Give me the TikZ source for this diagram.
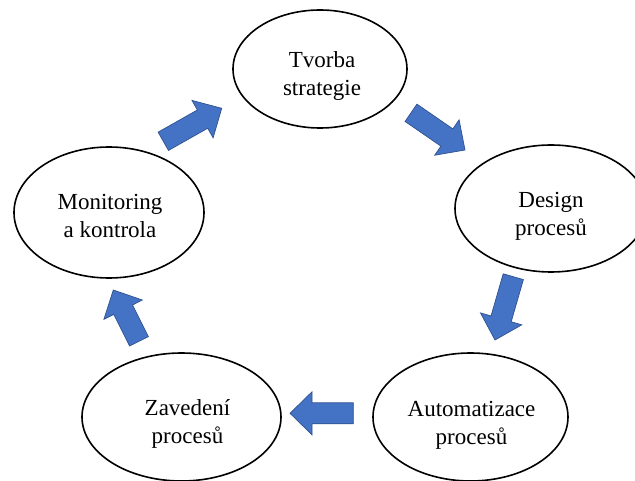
\documentclass[tikz,border=0pt]{standalone}
\usepackage{fontspec}
\setmainfont{Liberation Serif}
\usetikzlibrary{calc,shapes.geometric}

\definecolor{arrowblue}{HTML}{4472C4}
\definecolor{arrowedge}{HTML}{2F528F}

\tikzset{
  procell/.style={draw=black, line width=1.6pt, ellipse, inner sep=0pt},
  proctext/.style={align=center, inner sep=0pt,
    font=\fontsize{23}{28}\selectfont},
  arrowbody/.style={fill=arrowblue, draw=arrowedge, line width=0.7pt, line join=miter},
}

% block arrow from tail #1 to tip #2
\newcommand{\procarrow}[2]{%
  \coordinate (hb) at ($(#2)!22pt!(#1)$);
  \path[arrowbody]
    ($(#1)!10.5pt!90:(#2)$) -- ($(hb)!10.5pt!90:(#2)$) --
    ($(hb)!21.5pt!90:(#2)$) -- (#2) --
    ($(hb)!21.5pt!-90:(#2)$) -- ($(hb)!10.5pt!-90:(#2)$) --
    ($(#1)!10.5pt!-90:(#2)$) -- cycle;
}

\begin{document}
\begin{tikzpicture}[x=1pt, y=-1pt]
  \fill[white] (0,0) rectangle (635,481);
  \useasboundingbox (0,0) rectangle (635,481);

  % process stages
  \node[procell, minimum width=174pt, minimum height=118pt] (tvorba) at (320,69) {};
  \node[procell, minimum width=192pt, minimum height=127pt] (design) at (551,208.5) {};
  \node[procell, minimum width=195pt, minimum height=128pt] (auto) at (470.5,417) {};
  \node[procell, minimum width=199pt, minimum height=128pt] (zaved) at (181.5,417) {};
  \node[procell, minimum width=190pt, minimum height=131pt] (monit) at (109,212.5) {};

  % labels
  \node[proctext] (tvorbaT) at (322,76) {Tvorba\\strategie};
  \node[proctext] (designT) at (551,216) {Design\\procesů};
  \node[proctext] (autoT) at (471.5,425) {Automatizace\\procesů};
  \node[proctext] (zavedT) at (187.5,424) {Zavedení\\procesů};
  \node[proctext] (monitT) at (110,216) {Monitoring\\a kontrola};

  % arrow ends
  \coordinate (a1s) at (163.3,141.3); \coordinate (a1e) at (221.7,108.3);
  \coordinate (a2s) at (411,112.8);   \coordinate (a2e) at (465,150);
  \coordinate (a3s) at (513.3,276.7); \coordinate (a3e) at (495,340);
  \coordinate (a4s) at (353.3,413.3); \coordinate (a4e) at (290,413.3);
  \coordinate (a5s) at (139,341.3);   \coordinate (a5e) at (113.3,290);

  \procarrow{a1s}{a1e}
  \procarrow{a2s}{a2e}
  \procarrow{a3s}{a3e}
  \procarrow{a4s}{a4e}
  \procarrow{a5s}{a5e}
\end{tikzpicture}
\end{document}
